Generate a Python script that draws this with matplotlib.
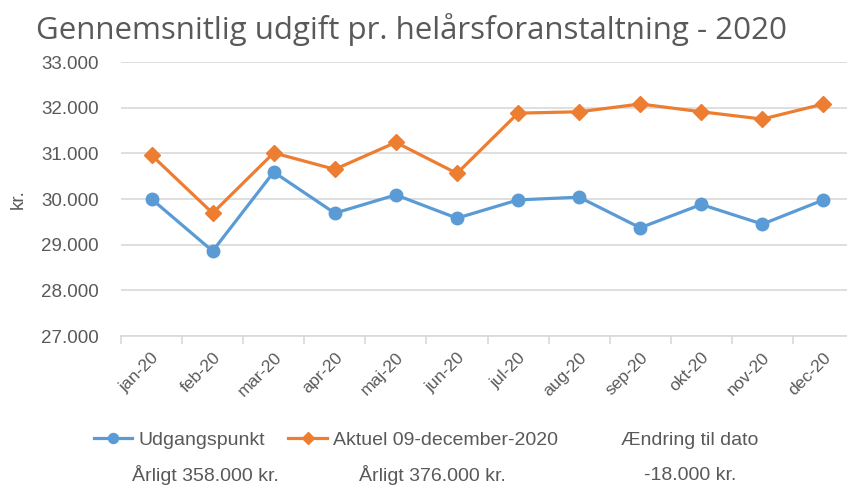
import matplotlib
matplotlib.use("Agg")
import matplotlib.pyplot as plt

months = ["jan-20", "feb-20", "mar-20", "apr-20", "maj-20", "jun-20",
          "jul-20", "aug-20", "sep-20", "okt-20", "nov-20", "dec-20"]
udgangspunkt = [30000, 28860, 30590, 29690, 30090, 29580,
                29980, 30040, 29370, 29880, 29450, 29980]
aktuel = [30960, 29690, 31010, 30650, 31240, 30560,
          31880, 31910, 32080, 31910, 31750, 32080]
yticks = [27000, 28000, 29000, 30000, 31000, 32000, 33000]
ytick_labels = ["27.000", "28.000", "29.000", "30.000", "31.000", "32.000", "33.000"]

title = "Gennemsnitlig udgift pr. helårsforanstaltning - 2020"
series_names = ["Udgangspunkt", "Aktuel 09-december-2020"]
sub_labels = ["Årligt 358.000 kr.", "Årligt 376.000 kr."]
change_title = "Ændring til dato"
change_value = "-18.000 kr."

BLUE = "#5B9BD5"
ORANGE = "#ED7D31"
GREY = "#595959"

W, H = 847, 486
fig = plt.figure(figsize=(W / 100, H / 100), dpi=100)
fig.patch.set_facecolor("white")

left, right, top, bottom = 121, 854, 62, 336
ax = fig.add_axes([left / W, 1 - bottom / H, (right - left) / W, (bottom - top) / H])

x = list(range(len(months)))
ax.plot(x, udgangspunkt, color=BLUE, lw=2.3, marker="o", ms=9,
        label=series_names[0], zorder=3)
ax.plot(x, aktuel, color=ORANGE, lw=2.3, marker="D", ms=8,
        label=series_names[1], zorder=3)

ax.set_xlim(-0.5, len(months) - 0.5)
ax.set_ylim(27000, 33000)
ax.set_yticks(yticks)
ax.set_yticklabels(ytick_labels, family="Liberation Sans", fontsize=13.5, color=GREY)
ax.yaxis.grid(True, color="#D9D9D9", lw=1.2)
ax.set_axisbelow(True)
for s in ["top", "right", "left"]:
    ax.spines[s].set_visible(False)
ax.spines["bottom"].set_color("#D9D9D9")
ax.spines["bottom"].set_linewidth(1.2)
ax.tick_params(axis="y", length=0, pad=16)

ax.set_xticks([i - 0.5 for i in x] + [len(months) - 0.5], minor=False)
ax.set_xticklabels([""] * (len(months) + 1))
ax.tick_params(axis="x", length=6, color="#D9D9D9", width=1.2)
ax.set_xticks(x, minor=True)
ax.set_xticklabels(months, minor=True, rotation=45, ha="right", va="top",
                   rotation_mode="anchor", family="Liberation Sans",
                   fontsize=12.5, color=GREY)
ax.tick_params(axis="x", which="minor", length=0, pad=10)

fig.text(18 / W, 1 - 199 / H, "kr.", rotation=90, ha="center", va="center",
         family="Liberation Sans", fontsize=13.5, color=GREY)

fig.text(411 / W, 1 - 30 / H, title, ha="center", va="center",
         family="Open Sans", fontsize=22.5, color=GREY)

leg = fig.legend(loc="center left", bbox_to_anchor=(76 / W, 1 - 440 / H), ncol=2,
                 frameon=False, handlelength=2.0, handletextpad=0.3,
                 columnspacing=1.2, markerscale=0.8,
                 prop={"family": "Liberation Sans", "size": 14})
for t in leg.get_texts():
    t.set_color(GREY)

fig.text(205 / W, 1 - 475 / H, sub_labels[0], ha="center", va="center",
         family="Liberation Sans", fontsize=14, color=GREY)
fig.text(432 / W, 1 - 475 / H, sub_labels[1], ha="center", va="center",
         family="Liberation Sans", fontsize=14, color=GREY)
fig.text(690 / W, 1 - 440 / H, change_title, ha="center", va="center",
         family="Liberation Sans", fontsize=14, color=GREY)
fig.text(690 / W, 1 - 475 / H, change_value, ha="center", va="center",
         family="Liberation Sans", fontsize=14, color=GREY)

fig.savefig("out.png", dpi=100)
